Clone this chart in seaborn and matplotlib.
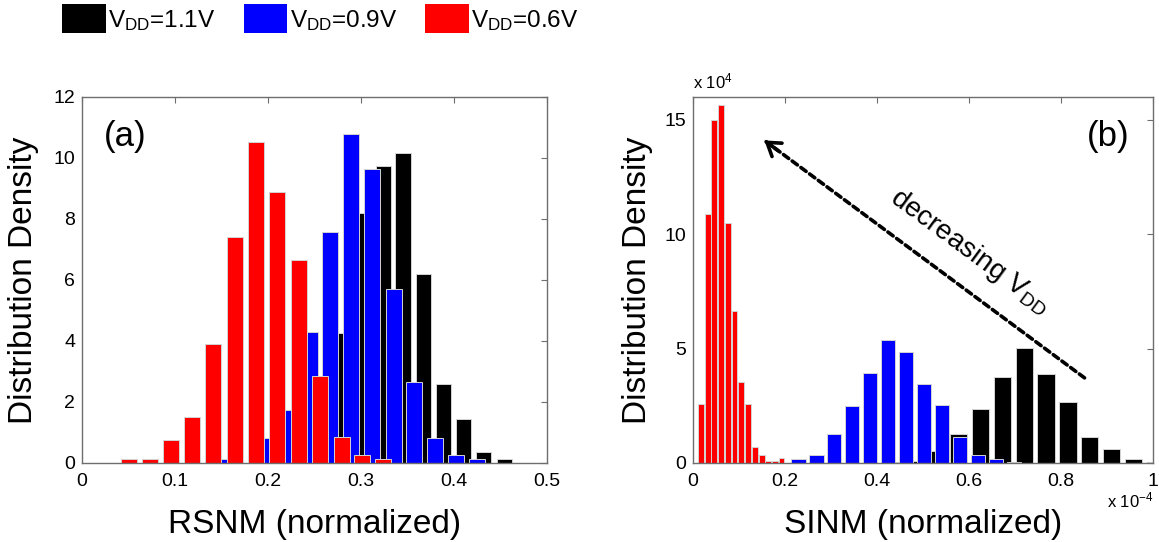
import matplotlib
matplotlib.use("Agg")
import matplotlib.pyplot as plt
from matplotlib.patches import Patch
from matplotlib.ticker import FuncFormatter
import seaborn as sns

# ---- RSNM (normalized): bin centres and distribution densities ----
rsnm_11_x = [0.237, 0.259, 0.280, 0.302, 0.324, 0.345, 0.367, 0.389, 0.410, 0.432, 0.454]
rsnm_11_y = [0.50, 1.70, 4.25, 8.19, 9.74, 10.17, 6.20, 2.58, 1.45, 0.35, 0.14]

rsnm_09_x = [0.155, 0.200, 0.222, 0.245, 0.267, 0.289, 0.312, 0.335, 0.357, 0.380, 0.402, 0.425]
rsnm_09_y = [0.12, 0.81, 1.74, 4.30, 7.58, 10.77, 9.63, 5.69, 2.67, 0.81, 0.26, 0.12]

rsnm_06_x = [0.050, 0.073, 0.096, 0.118, 0.141, 0.164, 0.187, 0.210, 0.233, 0.256, 0.279, 0.301, 0.324]
rsnm_06_y = [0.12, 0.12, 0.75, 1.52, 3.90, 7.40, 10.53, 8.87, 6.66, 2.85, 0.84, 0.26, 0.12]

# ---- SINM (normalized): bin centres and distribution densities ----
sinm_11_x = [0.434e-4, 0.482e-4, 0.529e-4, 0.577e-4, 0.625e-4, 0.672e-4, 0.720e-4,
             0.767e-4, 0.815e-4, 0.862e-4, 0.910e-4, 0.958e-4, 1.005e-4]
sinm_11_y = [0.04e4, 0.10e4, 0.52e4, 1.27e4, 2.34e4, 3.78e4, 5.01e4,
             3.88e4, 2.65e4, 1.12e4, 0.63e4, 0.16e4, 0.06e4]

sinm_09_x = [0.229e-4, 0.268e-4, 0.307e-4, 0.346e-4, 0.385e-4, 0.424e-4, 0.463e-4,
             0.502e-4, 0.541e-4, 0.580e-4, 0.619e-4, 0.658e-4, 0.697e-4]
sinm_09_y = [0.16e4, 0.35e4, 1.27e4, 2.49e4, 3.92e4, 5.38e4, 4.85e4,
             3.45e4, 2.54e4, 1.15e4, 0.35e4, 0.16e4, 0.06e4]

sinm_06_x = [0.017e-4, 0.032e-4, 0.046e-4, 0.061e-4, 0.076e-4, 0.090e-4, 0.105e-4,
             0.119e-4, 0.134e-4, 0.149e-4, 0.163e-4, 0.178e-4, 0.192e-4]
sinm_06_y = [2.58e4, 10.87e4, 15.00e4, 15.65e4, 10.48e4, 6.65e4, 3.53e4,
             2.58e4, 0.71e4, 0.35e4, 0.10e4, 0.10e4, 0.20e4]

legend_labels = [r"$\mathrm{V_{DD}}$=1.1V", r"$\mathrm{V_{DD}}$=0.9V", r"$\mathrm{V_{DD}}$=0.6V"]
colors = ["#000000", "#0000ff", "#ff0000"]

rsnm_xticks = [0, 0.1, 0.2, 0.3, 0.4, 0.5]
rsnm_yticks = [0, 2, 4, 6, 8, 10, 12]
sinm_xticks = [0, 0.2e-4, 0.4e-4, 0.6e-4, 0.8e-4, 1.0e-4]
sinm_yticks = [0, 5e4, 10e4, 15e4]

sns.set_style("white")
plt.rcParams["font.family"] = ["Liberation Sans", "DejaVu Sans"]
plt.rcParams["mathtext.fontset"] = "custom"
plt.rcParams["mathtext.rm"] = "Liberation Sans"
plt.rcParams["mathtext.it"] = "Liberation Sans:italic"
plt.rcParams["text.color"] = "black"
plt.rcParams["axes.labelcolor"] = "black"
plt.rcParams["xtick.color"] = "black"
plt.rcParams["ytick.color"] = "black"

fig = plt.figure(figsize=(11.59, 5.42), dpi=100)
ax1 = fig.add_axes([0.0708, 0.1458, 0.4012, 0.6753])
ax2 = fig.add_axes([0.598, 0.1458, 0.3969, 0.6753])

edge = "#d4d4d4"


def draw_bars(ax, xs, ys, color, width):
    sns.barplot(x=xs, y=ys, native_scale=True, width=width, color=color,
                saturation=1, errorbar=None, edgecolor=edge, linewidth=0.7, ax=ax)


# black first, then blue, red on top
draw_bars(ax1, rsnm_11_x, rsnm_11_y, colors[0], 0.78)
draw_bars(ax1, rsnm_09_x, rsnm_09_y, colors[1], 0.78)
draw_bars(ax1, rsnm_06_x, rsnm_06_y, colors[2], 0.78)

draw_bars(ax2, sinm_11_x, sinm_11_y, colors[0], 0.8)
draw_bars(ax2, sinm_09_x, sinm_09_y, colors[1], 0.8)
draw_bars(ax2, sinm_06_x, sinm_06_y, colors[2], 0.9)

spine_col = "#6e6e6e"
for ax in (ax1, ax2):
    for s in ax.spines.values():
        s.set_visible(True)
        s.set_color(spine_col)
        s.set_linewidth(1.0)
    ax.tick_params(direction="in", top=True, right=True, length=4, width=0.8,
                   color=spine_col, labelsize=14, labelcolor="black")
    ax.tick_params(axis="x", pad=7)
    ax.tick_params(axis="y", pad=5)
    ax.set_ylabel("Distribution Density", fontsize=24, labelpad=10, color="black")

ax1.set_xlim(0, 0.5)
ax1.set_ylim(0, 12)
ax1.set_xticks(rsnm_xticks)
ax1.set_yticks(rsnm_yticks)
ax1.xaxis.set_major_formatter(FuncFormatter(lambda v, p: f"{v:g}"))
ax1.set_xlabel("RSNM (normalized)", fontsize=24, labelpad=14, color="black")

ax2.set_xlim(0, 1e-4)
ax2.set_ylim(0, 16e4)
ax2.set_xticks(sinm_xticks)
ax2.set_yticks(sinm_yticks)
ax2.xaxis.set_major_formatter(FuncFormatter(lambda v, p: f"{v / 1e-4:g}"))
ax2.yaxis.set_major_formatter(FuncFormatter(lambda v, p: f"{v / 1e4:g}"))
ax2.set_xlabel("SINM (normalized)", fontsize=24, labelpad=14, color="black")
ax2.set_ylabel("Distribution Density", fontsize=24, labelpad=8, color="black")

# axis multipliers
ax2.text(0.0, 1.015, r"x 10$^{4}$", transform=ax2.transAxes, ha="left", va="bottom",
         fontsize=12)
ax2.text(1.0, -0.075, r"x 10$^{-4}$", transform=ax2.transAxes, ha="right", va="top",
         fontsize=12)

# panel tags
ax1.text(0.0925, 0.891, "(a)", transform=ax1.transAxes, ha="center", va="center", fontsize=25)
ax2.text(0.903, 0.891, "(b)", transform=ax2.transAxes, ha="center", va="center", fontsize=25)

# trend arrow: dashed shaft plus solid head
ax2.annotate("", xy=(0.155e-4, 14.1e4), xytext=(0.851e-4, 3.72e4),
             arrowprops=dict(arrowstyle="-", color="black", lw=2.6,
                             linestyle=(0, (1.8, 1.2)), shrinkA=0, shrinkB=0))
ax2.annotate("", xy=(0.155e-4, 14.1e4), xytext=(0.185e-4, 13.65e4),
             arrowprops=dict(arrowstyle="->,head_length=0.45,head_width=0.3",
                             color="black", lw=2.6, shrinkA=0, shrinkB=0,
                             mutation_scale=20))
ax2.text(0.601e-4, 9.24e4, r"decreasing $\mathrm{V_{DD}}$", rotation=-36.4,
         ha="center", va="center", rotation_mode="anchor", fontsize=20)

handles = [Patch(facecolor=c, edgecolor="none") for c in colors]
fig.legend(handles, legend_labels, loc="upper left", bbox_to_anchor=(0.0535, 0.992),
           ncol=3, frameon=False, fontsize=17.5, handlelength=1.8, handleheight=1.45,
           handletextpad=0.1, columnspacing=1.15, borderpad=0, borderaxespad=0)

fig.savefig("out.png", dpi=100)
